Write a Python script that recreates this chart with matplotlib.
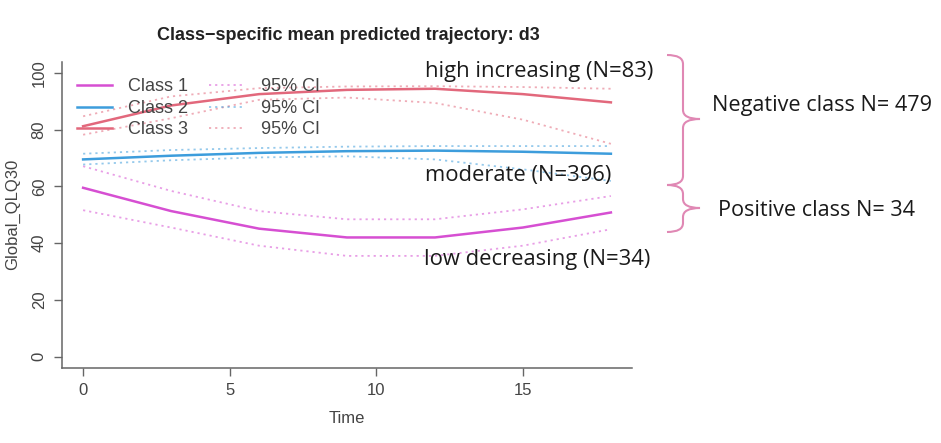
import numpy as np
import matplotlib.pyplot as plt
from matplotlib.path import Path
from matplotlib.patches import PathPatch
from matplotlib.lines import Line2D

plt.rcParams['font.family'] = ['Liberation Sans', 'DejaVu Sans']

# predicted trajectories
time = [0, 3, 6, 9, 12, 15, 18]
class1 = [59.5, 51.3, 45.1, 42.0, 42.0, 45.5, 50.8]
class1_lo = [51.6, 45.5, 39.1, 35.5, 35.5, 39.1, 44.9]
class1_hi = [67.1, 58.4, 51.3, 48.4, 48.4, 51.9, 56.6]
class2 = [69.5, 70.8, 71.8, 72.4, 72.6, 72.2, 71.5]
class2_lo = [67.7, 69.2, 70.2, 70.6, 69.5, 66.0, 61.9]
class2_hi = [71.5, 72.8, 73.5, 74.0, 74.2, 74.2, 74.2]
class3 = [81.2, 88.5, 92.5, 94.0, 94.4, 92.5, 89.6]
class3_lo = [78.2, 84.0, 90.5, 91.3, 89.4, 83.5, 75.0]
class3_hi = [84.7, 91.7, 94.6, 95.2, 95.3, 95.0, 94.4]

class_names = ["Class 1", "Class 2", "Class 3"]
colors = ["#d64fd2", "#3d9ddc", "#e2687c"]
xticks = [0, 5, 10, 15]
yticks = [0, 20, 40, 60, 80, 100]

group_labels = ["high increasing (N=83)", "moderate (N=396)", "low decreasing (N=34)"]
side_labels = ["Negative class N= 479", "Positive class N= 34"]

W, H = 941, 443
fig = plt.figure(figsize=(W / 100, H / 100), dpi=100)
ax = fig.add_axes([62 / W, 1 - 368 / H, 570 / W, 306.5 / H])

grey = "#444444"

means = [class1, class2, class3]
los = [class1_lo, class2_lo, class3_lo]
his = [class1_hi, class2_hi, class3_hi]
dots = (0, (1.2, 2.2))
for m, lo, hi, c in zip(means, los, his, colors):
    ax.plot(time, lo, color=c, lw=1.3, ls=dots, alpha=0.55)
    ax.plot(time, hi, color=c, lw=1.3, ls=dots, alpha=0.55)
    ax.plot(time, m, color=c, lw=1.8)

ax.set_xlim(-0.72, 18.72)
ax.set_ylim(-4, 104)
ax.set_xticks(xticks)
ax.set_yticks(yticks)
for s in ["top", "right"]:
    ax.spines[s].set_visible(False)
for s in ["left", "bottom"]:
    ax.spines[s].set_color("#666666")
    ax.spines[s].set_linewidth(1.1)
ax.tick_params(direction="out", length=5.5, width=1, color="#666666",
               labelsize=12, labelcolor=grey, pad=5.5)
ax.tick_params(axis="y", labelrotation=90)
for t in ax.get_yticklabels():
    t.set_va("center")

ax.set_xlabel("Time", fontsize=12, color=grey, labelpad=9.5)
ax.set_ylabel("Global_QLQ30", fontsize=12, color=grey, labelpad=8)
fig.text(348 / W, 1 - 35 / H, "Class\u2212specific mean predicted trajectory: d3",
         ha="center", va="center", fontsize=13, fontweight="bold", color="#222222")

handles = [Line2D([], [], color=c, lw=1.8) for c in colors]
handles += [Line2D([], [], color=c, lw=1.3, ls=dots, alpha=0.55) for c in colors]
labels = class_names + ["95% CI"] * 3
leg = ax.legend(handles, labels, ncol=2, loc="upper left",
                bbox_to_anchor=(0.026, 0.945), frameon=False, fontsize=13,
                handlelength=1.95, handletextpad=0.9, columnspacing=1.15,
                labelspacing=0.25, borderpad=0, borderaxespad=0)
for t in leg.get_texts():
    t.set_color(grey)

# annotations drawn in figure pixel coordinates
def px(x, y):
    return (x / W, 1 - y / H)

ann_font = ["Open Sans", "DejaVu Sans"]
for lab, (x, y) in zip(group_labels, [(425, 71), (425, 175), (424, 259)]):
    fig.text(*px(x, y), lab, ha="left", va="center", fontsize=15.8,
             color="#1a1a1a", family=ann_font)
for lab, (x, y) in zip(side_labels, [(712, 105), (718, 210)]):
    fig.text(*px(x, y), lab, ha="left", va="center", fontsize=15.6,
             color="#1a1a1a", family=ann_font)

def brace(top, mid, bot, x0=667, x1=683, tip=700, r=9):
    pts = [(x0, top), (x1, top), (x1, top + r), (x1, mid - r), (x1, mid), (tip, mid),
           (x1, mid), (x1, mid + r), (x1, bot - r), (x1, bot), (x0, bot)]
    codes = [Path.MOVETO, Path.CURVE3, Path.CURVE3, Path.LINETO, Path.CURVE3, Path.CURVE3,
             Path.CURVE3, Path.CURVE3, Path.LINETO, Path.CURVE3, Path.CURVE3]
    verts = [px(x, y) for x, y in pts]
    fig.patches.append(PathPatch(Path(verts, codes), fc="none", ec="#e088b4", lw=1.5,
                                 transform=fig.transFigure))

brace(55, 119, 185)
brace(185, 208, 232)

fig.savefig("out.png", dpi=100)
